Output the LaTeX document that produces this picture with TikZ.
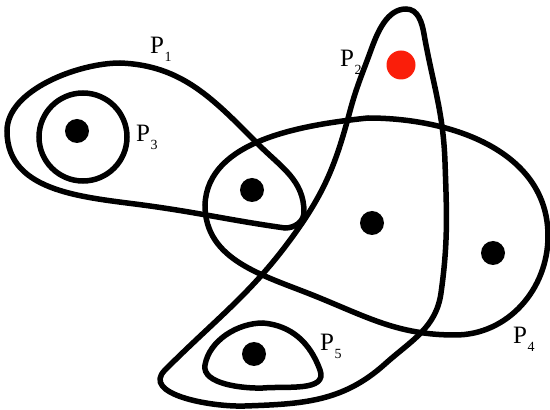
\documentclass[tikz,border=0pt]{standalone}
\usepackage{fontspec}
\setmainfont{Liberation Serif}
\usepackage{xcolor}
\usepackage{tikz}

\definecolor{hotred}{RGB}{250,30,10}
\newcommand{\setname}[1]{P\kern.02em\raisebox{-.3em}{\fontsize{14}{14}\selectfont #1}}

\begin{document}
\begin{tikzpicture}[x=1pt,y=1pt,
    set/.style={line width=5.5pt},
    elem/.style={circle,fill=black,inner sep=0pt,minimum size=24pt},
    lbl/.style={font=\fontsize{25}{25}\selectfont,inner sep=0pt,anchor=base west}]
    \useasboundingbox (0,0) rectangle (550,410);
    % P1 and the circle P3 inside it
    \draw[set] (7,279) to[out=90,in=180,looseness=0.8] (120,347)
        to[out=-2,in=135] (259,265) to[out=-45,in=90] (304,198)
        to[out=-90,in=0] (285,182) to[out=172,in=-8] (150,204)
        to[out=172,in=-90] cycle;
    \draw[set] (83,273) circle[radius=44];
    % P2
    \draw[set] (406,401) to[out=0,in=100] (424,376) to[out=-80,in=92] (445,248)
        to[out=-88,in=82] (441,117) to[out=-98,in=42] (385,46)
        to[out=222,in=2] (245,4) to[out=182,in=225] (165,40)
        to[out=45,in=235] (298,181) to[out=55,in=-105] (350,299)
        to[out=75,in=250] (371,360) to[out=70,in=180,looseness=0.9] cycle;
    % P4
    \draw[set] (205,205) to[out=88,in=186,looseness=0.9] (368,292)
        to[out=0,in=90] (548,174) to[out=-90,in=0] (455,75)
        to[out=180,in=-22] (315,114) to[out=158,in=-90] cycle;
    % P5
    \draw[set] (205,45) to[out=80,in=180,looseness=0.9] (263,87)
        to[out=-5,in=110] (320,40) to[out=-70,in=5] (263,22)
        to[out=182,in=-100,looseness=0.8] cycle;
    % elements
    \node[elem] (e3) at (77,279) {};
    \node[elem,fill=hotred,minimum size=29pt] (e2) at (401,345) {};
    \node[elem] (e14) at (252,220) {};
    \node[elem] (e24) at (372,187) {};
    \node[elem] (e4) at (493,157) {};
    \node[elem] (e5) at (254,56) {};
    % labels
    \node[lbl] (l1) at (150,356) {\setname{1}};
    \node[lbl] (l2) at (340,343) {\setname{2}};
    \node[lbl] (l3) at (136,268) {\setname{3}};
    \node[lbl] (l4) at (513,66) {\setname{4}};
    \node[lbl] (l5) at (320,59) {\setname{5}};
\end{tikzpicture}
\end{document}
